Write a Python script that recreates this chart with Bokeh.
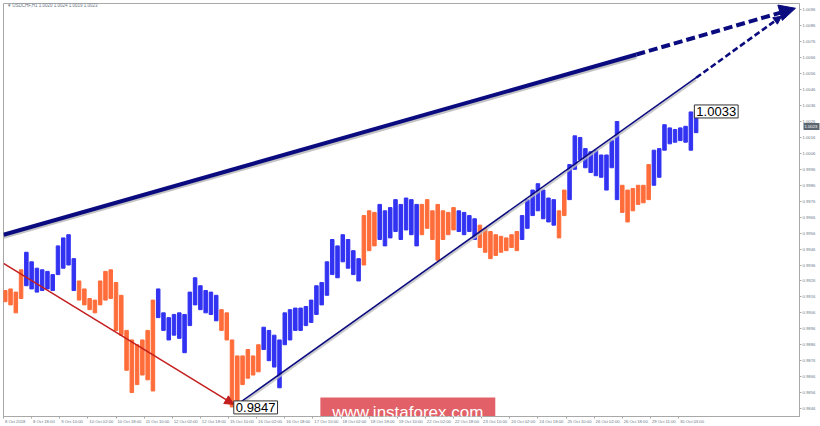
from bokeh.plotting import figure
from bokeh.models import (Range1d, LinearAxis, FixedTicker, Label, Arrow,
                          NormalHead, ColumnDataSource, PrintfTickFormatter,
                          CustomJSTickFormatter)
from bokeh.embed import file_html
from bokeh.resources import INLINE

# ---------------- data ----------------
symbol_info = "\u25be USDCHF,H1  1.0020 1.0024 1.0019 1.0023"
current_price = 1.0023
low_price = 0.9847
high_price = 1.0033
hours_per_bar = 3

bar_high = [
    0.9920, 0.9921, 0.9919, 0.9933, 0.9944, 0.9938, 0.9934, 0.9933, 0.9932, 0.9930,
    0.9948, 0.9953, 0.9955, 0.9940, 0.9926, 0.9921, 0.9915, 0.9914, 0.9926, 0.9932,
    0.9933, 0.9925, 0.9917, 0.9895, 0.9889, 0.9886, 0.9889, 0.9895, 0.9914, 0.9921,
    0.9906, 0.9903, 0.9905, 0.9906, 0.9905, 0.9919, 0.9928, 0.9923, 0.9920, 0.9919,
    0.9917, 0.9908, 0.9906, 0.9889, 0.9879, 0.9879, 0.9883, 0.9879, 0.9886, 0.9897,
    0.9895, 0.9892, 0.9889, 0.9906, 0.9908, 0.9909, 0.9909, 0.9910, 0.9914, 0.9923,
    0.9925, 0.9938, 0.9952, 0.9948, 0.9955, 0.9952, 0.9945, 0.9940, 0.9967, 0.9970,
    0.9969, 0.9974, 0.9970, 0.9972, 0.9977, 0.9974, 0.9978, 0.9977, 0.9974, 0.9974,
    0.9977, 0.9970, 0.9974, 0.9970, 0.9969, 0.9972, 0.9970, 0.9969, 0.9967, 0.9965,
    0.9961, 0.9959, 0.9957, 0.9955, 0.9954, 0.9953, 0.9955, 0.9957, 0.9967, 0.9977,
    0.9983, 0.9987, 0.9983, 0.9978, 0.9977, 0.9970, 0.9983, 0.9999, 1.0017, 1.0016,
    1.0009, 1.0007, 1.0008, 1.0005, 1.0005, 1.0014, 1.0026, 0.9986, 0.9983, 0.9984,
    0.9986, 0.9986, 0.9999, 1.0008, 1.0009, 1.0024, 1.0022, 1.0021, 1.0022, 1.0023,
    1.0032, 1.0033,
]
bar_low = [
    0.9913, 0.9911, 0.9906, 0.9915, 0.9923, 0.9921, 0.9919, 0.9920, 0.9921, 0.9920,
    0.9930, 0.9934, 0.9936, 0.9920, 0.9914, 0.9911, 0.9908, 0.9906, 0.9911, 0.9914,
    0.9915, 0.9895, 0.9892, 0.9870, 0.9856, 0.9861, 0.9867, 0.9864, 0.9857, 0.9903,
    0.9895, 0.9889, 0.9892, 0.9890, 0.9881, 0.9898, 0.9911, 0.9908, 0.9906, 0.9905,
    0.9901, 0.9895, 0.9889, 0.9847, 0.9851, 0.9861, 0.9865, 0.9867, 0.9869, 0.9883,
    0.9876, 0.9872, 0.9859, 0.9886, 0.9889, 0.9895, 0.9895, 0.9898, 0.9900, 0.9905,
    0.9911, 0.9917, 0.9930, 0.9928, 0.9938, 0.9934, 0.9930, 0.9926, 0.9936, 0.9945,
    0.9948, 0.9952, 0.9948, 0.9953, 0.9957, 0.9952, 0.9958, 0.9955, 0.9948, 0.9955,
    0.9959, 0.9952, 0.9939, 0.9952, 0.9955, 0.9958, 0.9957, 0.9955, 0.9957, 0.9952,
    0.9947, 0.9944, 0.9940, 0.9942, 0.9944, 0.9945, 0.9947, 0.9945, 0.9952, 0.9959,
    0.9967, 0.9970, 0.9965, 0.9963, 0.9961, 0.9953, 0.9967, 0.9977, 0.9996, 1.0002,
    0.9997, 0.9994, 0.9992, 0.9991, 0.9983, 0.9997, 0.9977, 0.9969, 0.9963, 0.9970,
    0.9974, 0.9975, 0.9977, 0.9986, 0.9991, 1.0008, 1.0012, 1.0013, 1.0014, 1.0013,
    1.0008, 1.0019,
]
trend_runs = [("down", 4), ("up", 10), ("down", 15), ("up", 12), ("down", 8), ("up", 19),
              ("down", 3), ("up", 8), ("down", 7), ("up", 4), ("down", 8), ("up", 7),
              ("down", 2), ("up", 10), ("down", 6), ("up", 9)]

time_tick_hours = [0, 16, 32, 48, 64, 80, 96, 112, 128, 144, 160, 176, 192, 208, 224,
                   240, 256, 272, 288, 304, 320, 336, 352, 368, 384]
time_tick_labels = ["8 Oct 2018", "8 Oct 18:00", "9 Oct 10:00", "10 Oct 02:00", "10 Oct 18:00",
                    "11 Oct 10:00", "12 Oct 02:00", "12 Oct 18:00", "15 Oct 10:00", "16 Oct 02:00",
                    "16 Oct 18:00", "17 Oct 10:00", "18 Oct 02:00", "18 Oct 18:00", "19 Oct 10:00",
                    "22 Oct 02:00", "22 Oct 18:00", "23 Oct 10:00", "24 Oct 02:00", "24 Oct 18:00",
                    "25 Oct 10:00", "26 Oct 02:00", "26 Oct 18:00", "29 Oct 11:00", "30 Oct 03:00"]
price_ticks = [0.9846, 0.9856, 0.9866, 0.9876, 0.9886, 0.9896, 0.9906, 0.9916, 0.9926,
               0.9936, 0.9946, 0.9956, 0.9966, 0.9976, 0.9986, 0.9996, 1.0006, 1.0016,
               1.0026, 1.0036, 1.0046, 1.0056, 1.0066, 1.0076, 1.0086, 1.0096]

# wave (trend) lines: anchor points in (hour index, price)
big_wave_hours = [0, 360, 450.5]
big_wave_prices = [0.9955, 1.0068, 1.0097]
small_wave_hours = [131, 394, 442.6]
small_wave_prices = [0.9847, 1.00535, 1.0092]
down_wave_hours = [0, 131]
down_wave_prices = [0.9937, 0.98486]

# ---------------- styles ----------------
UP = "#3232F2"
DOWN = "#FF6D3A"
NAVY = "#0B0B80"
RED = "#C41E1E"
FONT = "Liberation Sans"
AXIS_TXT = "#6A7888"
AXIS_LINE = "#A8A8A8"
TICK_FONT_PX = 4.2

trend = []
for name, n in trend_runs:
    trend += [name] * n
bar_colors = [UP if t == "up" else DOWN for t in trend]
bar_hours = [hours_per_bar * k + 1 for k in range(len(bar_high))]

X0, X1 = 0, 452.8
Y0, Y1 = 0.9841, 1.0100
W, H = 820, 426
BL, BT, BR, BB = 3, 3, 16, 10
px_per_hour = (W - BL - BR) / (X1 - X0)
px_per_price = (H - BT - BB) / (Y1 - Y0)

# MT4-style left-aligned time labels: centre of each label, a little right of its tick
CHAR_EM = {" ": 0.278, ":": 0.278, "O": 0.778, "c": 0.5, "t": 0.278}
def text_px(s):
    return sum(CHAR_EM.get(ch, 0.556) for ch in s) * TICK_FONT_PX
label_centres = [h + (1.5 + text_px(s) / 2) / px_per_hour
                 for h, s in zip(time_tick_hours, time_tick_labels)]

p = figure(width=W, height=H, x_range=Range1d(X0, X1), y_range=Range1d(Y0, Y1),
           output_backend="svg", toolbar_location=None,
           x_axis_location=None, y_axis_location=None,
           min_border_left=BL, min_border_top=BT, min_border_right=BR, min_border_bottom=BB,
           background_fill_color="white", border_fill_color="white",
           outline_line_color=AXIS_LINE, outline_line_width=1)
p.xgrid.visible = False
p.ygrid.visible = False

# right price axis
yaxis = LinearAxis(ticker=FixedTicker(ticks=price_ticks),
                   formatter=PrintfTickFormatter(format="%.4f"),
                   axis_line_color=AXIS_LINE, major_tick_line_color=AXIS_LINE,
                   major_tick_out=2, major_tick_in=0, minor_tick_out=0, minor_tick_in=0,
                   major_label_text_font_size=f"{TICK_FONT_PX}px", major_label_text_color=AXIS_TXT,
                   major_label_text_font=FONT, major_label_standoff=1)
p.add_layout(yaxis, "right")

# current-price chip on the price axis: a thick dark tick reaching back over the
# price-axis strip, with the price written on it in white
S1 = 15
marker_axis = LinearAxis(ticker=FixedTicker(ticks=[current_price]),
                         formatter=PrintfTickFormatter(format="%.4f"),
                         axis_line_color=None, major_tick_line_color="#5C6670",
                         major_tick_line_width=7, major_tick_in=S1, major_tick_out=1,
                         minor_tick_out=0, minor_tick_in=0,
                         major_label_text_font_size=f"{TICK_FONT_PX}px",
                         major_label_text_color="white", major_label_text_font=FONT,
                         major_label_standoff=-(S1 - 1) - 1)
p.add_layout(marker_axis, "right")

# bottom time axis: tick marks
xaxis = LinearAxis(ticker=FixedTicker(ticks=time_tick_hours),
                   axis_line_color=AXIS_LINE, major_tick_line_color=AXIS_LINE,
                   major_tick_out=2, major_tick_in=0, minor_tick_out=0, minor_tick_in=0,
                   major_label_text_font_size="0px", major_label_text_alpha=0,
                   major_label_standoff=0)
p.add_layout(xaxis, "below")
# bottom time axis: labels (left aligned to their ticks)
xlab = LinearAxis(ticker=FixedTicker(ticks=label_centres),
                  formatter=CustomJSTickFormatter(args=dict(labels=time_tick_labels),
                                                  code="return labels[index];"),
                  axis_line_color=None, major_tick_line_color=None,
                  major_tick_out=0, major_tick_in=0, minor_tick_out=0, minor_tick_in=0,
                  major_label_text_font_size=f"{TICK_FONT_PX}px", major_label_text_color=AXIS_TXT,
                  major_label_text_font=FONT, major_label_standoff=0)
p.add_layout(xlab, "below")

# bars
src = ColumnDataSource(dict(h=bar_hours, hi=bar_high, lo=bar_low, c=bar_colors))
p.vbar(x="h", top="hi", bottom="lo", width=2.0, color="c", source=src)

# shadows of wave lines
sh = 2.2 / px_per_price
p.line(big_wave_hours[:2], [v - sh for v in big_wave_prices[:2]], line_color="#B4B4B4",
       line_width=4, line_alpha=0.8)
p.line(small_wave_hours[:2], [v - sh for v in small_wave_prices[:2]], line_color="#BDBDBD",
       line_width=2, line_alpha=0.8)

# big wave
p.line(big_wave_hours[:2], big_wave_prices[:2], line_color=NAVY, line_width=4)
p.add_layout(Arrow(x_start=big_wave_hours[1], y_start=big_wave_prices[1],
                   x_end=big_wave_hours[2], y_end=big_wave_prices[2],
                   line_color=NAVY, line_width=4, line_dash="9 4",
                   end=NormalHead(size=16, fill_color=NAVY, line_color=NAVY, line_width=1)))
# small wave
p.line(small_wave_hours[:2], small_wave_prices[:2], line_color=NAVY, line_width=1.6)
p.add_layout(Arrow(x_start=small_wave_hours[1], y_start=small_wave_prices[1],
                   x_end=small_wave_hours[2], y_end=small_wave_prices[2],
                   line_color=NAVY, line_width=2.5, line_dash="6 3",
                   end=NormalHead(size=8, fill_color=NAVY, line_color=NAVY, line_width=1)))
# down wave
p.add_layout(Arrow(x_start=down_wave_hours[0], y_start=down_wave_prices[0],
                   x_end=down_wave_hours[1], y_end=down_wave_prices[1],
                   line_color=RED, line_width=1.5,
                   end=NormalHead(size=9, fill_color=RED, line_color=RED, line_width=1)))

# value labels
p.add_layout(Label(x=small_wave_hours[0], y=low_price - 0.00003, text=f"{low_price:.4f}",
                   text_align="left", text_baseline="middle", text_font=FONT,
                   text_font_size="13px", text_color="black",
                   background_fill_color="white", border_line_color="#333333",
                   border_line_width=1, padding=2))
p.add_layout(Label(x=393, y=high_price - 0.00007, text=f"{high_price:.4f}",
                   text_align="left", text_baseline="middle", text_font=FONT,
                   text_font_size="13px", text_color="black",
                   background_fill_color="white", border_line_color="#333333",
                   border_line_width=1, padding=2))

# symbol info
p.add_layout(Label(x=2.5, y=1.00985, text=symbol_info, text_align="left",
                   text_baseline="middle", text_font=FONT, text_font_size="4.5px",
                   text_color=AXIS_TXT))

# watermark: red plate at the bottom of the chart, text inside the frame
wm_centre = 230
wm_half_w = 88 / px_per_hour
wm_top = Y0 + 19 / px_per_price
p.quad(left=[wm_centre - wm_half_w], right=[wm_centre + wm_half_w],
       bottom=[Y0 - 0.001], top=[wm_top], fill_color="#DE4A52", fill_alpha=0.88,
       line_color=None)
p.add_layout(Label(x=wm_centre, y=Y0, y_offset=4, text="www.instaforex.com",
                   text_align="center", text_baseline="alphabetic", text_font=FONT,
                   text_font_size="17px", text_color="white"))

open("out.html", "w").write(file_html(p, INLINE))
